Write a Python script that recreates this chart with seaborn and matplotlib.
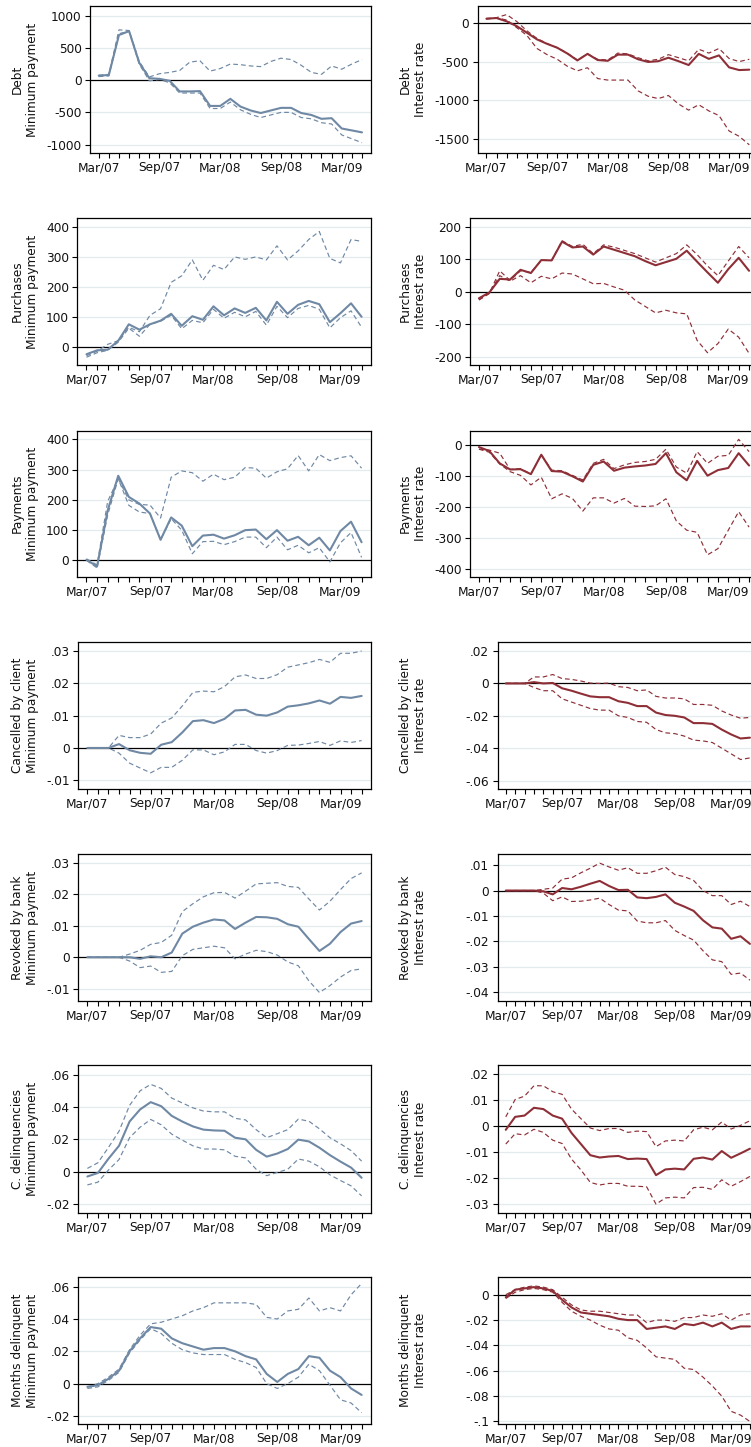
import numpy as np
import pandas as pd
import matplotlib
matplotlib.use("Agg")
import matplotlib.pyplot as plt
import seaborn as sns

# ---- monthly calendar: Mar/07 .. May/09 ----
months = pd.date_range("2007-03-01", "2009-05-01", freq="MS")
month_labels = [d.strftime("%b/%y") for d in months]
tick_months = ["Mar/07", "Sep/07", "Mar/08", "Sep/08", "Mar/09"]

# ---- Debt ----
debt_min = [70, 80, 700, 760, 270, 30, 20, -10, -175, -175, -170, -400, -400, -290,
            -410, -470, -510, -470, -430, -430, -510, -540, -600, -590, -750, -780, -810]
debt_min_hi = [75, 90, 780, 770, 290, 50, 100, 120, 150, 280, 300, 140, 180, 250,
               240, 220, 210, 290, 340, 320, 230, 120, 90, 220, 170, 250, 320]
debt_min_lo = [55, 65, 720, 760, 250, -10, 10, -40, -200, -200, -200, -440, -440, -340,
               -460, -530, -580, -540, -500, -500, -580, -600, -660, -680, -850, -910, -970]
debt_int = [56, 65, 22, -40, -125, -212, -270, -320, -395, -485, -400, -480, -490, -410,
            -410, -470, -505, -495, -450, -495, -545, -400, -465, -420, -575, -610, -605]
debt_int_hi = [50, 70, 110, 20, -100, -200, -265, -320, -390, -480, -400, -470, -480, -390,
               -400, -450, -490, -470, -410, -450, -490, -340, -390, -330, -460, -500, -470]
debt_int_lo = [60, 65, 40, -60, -160, -330, -410, -470, -560, -620, -580, -720, -740, -740,
               -740, -880, -950, -980, -940, -1050, -1130, -1060, -1140, -1200, -1400, -1470, -1580]

# ---- Purchases ----
purch_min = [-25, -12, -10, 20, 75, 57, 75, 87, 110, 70, 102, 90, 135, 105,
             128, 113, 130, 88, 150, 110, 140, 153, 142, 82, 112, 145, 100]
purch_min_hi = [-30, -15, 8, 20, 65, 50, 105, 127, 215, 237, 290, 222, 272, 258,
                300, 292, 300, 290, 337, 290, 320, 358, 385, 295, 280, 358, 352]
purch_min_lo = [-35, -20, -12, 15, 62, 35, 75, 85, 105, 60, 88, 80, 125, 95,
                115, 100, 118, 72, 135, 97, 128, 138, 125, 63, 97, 120, 65]
purch_int = [-20, -2, 40, 38, 68, 58, 98, 97, 155, 137, 140, 115, 140, 130,
             120, 110, 95, 82, 92, 102, 127, 93, 60, 28, 70, 105, 65]
purch_int_hi = [-25, -5, 65, 35, 65, 60, 97, 97, 158, 140, 147, 118, 145, 138,
                128, 118, 105, 92, 105, 118, 145, 115, 80, 50, 95, 140, 105]
purch_int_lo = [-25, -5, 50, 33, 50, 28, 48, 40, 58, 55, 40, 25, 26, 15,
                5, -25, -45, -65, -57, -65, -68, -150, -188, -160, -115, -140, -190]

# ---- Payments ----
pay_min = [2, -20, 165, 280, 210, 188, 155, 68, 142, 115, 47, 82, 85, 72,
           83, 100, 102, 70, 100, 65, 78, 50, 75, 33, 97, 128, 60]
pay_min_hi = [5, -15, 195, 270, 200, 185, 183, 140, 275, 296, 290, 262, 285, 267,
              275, 307, 305, 272, 293, 303, 347, 296, 350, 330, 340, 346, 305]
pay_min_lo = [0, -25, 150, 270, 182, 160, 155, 68, 138, 100, 22, 62, 63, 52,
              62, 77, 77, 42, 77, 35, 50, 25, 42, -5, 58, 92, 10]
pay_int = [-5, -18, -58, -78, -77, -93, -30, -83, -85, -100, -117, -63, -52, -82,
           -72, -68, -65, -60, -25, -87, -113, -50, -98, -80, -73, -25, -65]
pay_int_hi = [-12, -15, -25, -78, -75, -93, -30, -80, -82, -97, -112, -58, -45, -75,
              -63, -55, -52, -45, -12, -70, -90, -20, -58, -35, -32, 20, -20]
pay_int_lo = [-12, -22, -60, -85, -97, -128, -103, -173, -157, -172, -213, -170, -170, -187,
              -172, -197, -198, -196, -173, -245, -275, -282, -355, -335, -275, -215, -265]

# ---- Cancelled by client ----
canc_min = [0, 0, 0, .0012, -.0007, -.0015, -.0018, .001, .0018, .0048, .0083, .0086, .0077, .009,
            .0116, .0118, .0103, .01, .011, .0128, .0132, .0138, .0147, .0137, .0158, .0155, .0161]
canc_min_hi = [0, 0, 0, .0039, .0032, .0032, .0043, .0077, .0093, .013, .0172, .0176, .0174, .019,
               .022, .0226, .0215, .0215, .0227, .025, .0257, .0264, .0274, .0265, .0293, .0293, .030]
canc_min_lo = [0, 0, 0, -.0016, -.0047, -.0062, -.0077, -.006, -.006, -.0038, -.0006, -.0006, -.0021, -.0012,
               .0011, .0011, -.0008, -.0016, -.0008, .0008, .0009, .0014, .002, .0008, .0022, .0017, .0023]
canc_int = [0, 0, 0, .0008, 0, .0003, -.003, -.0045, -.0063, -.008, -.0085, -.0085, -.011, -.012,
            -.014, -.014, -.018, -.0195, -.020, -.021, -.0245, -.0245, -.025, -.0285, -.0315, -.034, -.0335]
canc_int_hi = [0, 0, 0, .004, .004, .0055, .003, .0025, .0015, .0002, 0, .0002, -.002, -.0025,
               -.0045, -.004, -.008, -.009, -.009, -.0095, -.013, -.013, -.0135, -.017, -.0195, -.0215, -.021]
canc_int_lo = [0, 0, 0, -.0025, -.0045, -.0045, -.0095, -.0115, -.0135, -.0155, -.0165, -.0165, -.020, -.021,
               -.0235, -.024, -.0285, -.0305, -.031, -.0325, -.035, -.0355, -.0365, -.040, -.0435, -.047, -.046]

# ---- Revoked by bank ----
revk_min = [0, 0, 0, 0, 0, -.0005, .0003, 0, .0015, .0075, .0097, .011, .012, .0117,
            .009, .011, .0128, .0127, .0122, .0105, .0097, .0058, .002, .0043, .008, .0107, .0115]
revk_min_hi = [0, 0, 0, 0, .001, .0022, .0041, .0047, .007, .0145, .017, .0192, .0205, .0206,
               .0188, .021, .0233, .0235, .0237, .0225, .0222, .0185, .015, .0178, .0215, .025, .0268]
revk_min_lo = [0, 0, 0, 0, -.0012, -.0033, -.0028, -.0048, -.0045, .0005, .0025, .003, .0035, .003,
               -.0005, .001, .0022, .0018, .0007, -.0015, -.0027, -.0075, -.0112, -.009, -.0063, -.0042, -.0037]
revk_int = [0, 0, 0, 0, -.0003, -.0015, .001, .0005, .0015, .0027, .0038, .0018, .0002, .0003,
            -.0027, -.003, -.0025, -.0015, -.0048, -.0063, -.008, -.0117, -.0145, -.015, -.019, -.018, -.021]
revk_int_hi = [0, 0, 0, 0, .0005, .001, .0045, .005, .007, .0088, .0108, .0093, .008, .009,
               .0068, .0068, .0078, .0092, .0063, .0055, .004, 0, -.002, -.002, -.0055, -.0042, -.0063]
revk_int_lo = [0, 0, 0, 0, -.001, -.004, -.0025, -.0043, -.0042, -.0037, -.003, -.0055, -.0077, -.008,
               -.012, -.0127, -.0127, -.0118, -.0157, -.0177, -.0195, -.0237, -.0273, -.028, -.033, -.0325, -.0353]

# ---- Current delinquencies ----
cdel_min = [-.003, -.0008, .008, .016, .031, .0385, .043, .0405, .0345, .031, .028, .026, .0255, .0253,
            .021, .020, .0135, .0093, .0112, .014, .0198, .0187, .0148, .0102, .0062, .0025, -.0038]
cdel_min_hi = [.002, .0055, .015, .025, .041, .050, .054, .0515, .0455, .0425, .0395, .0375, .037, .037,
               .033, .032, .026, .021, .0235, .026, .0325, .0312, .0265, .021, .0172, .013, .0065]
cdel_min_lo = [-.0082, -.0065, .001, .0075, .021, .0275, .0323, .029, .0232, .0195, .016, .014, .014, .0135,
               .0095, .0085, .0015, -.0025, -.0005, .0015, .0078, .0065, .003, -.002, -.0055, -.0088, -.015]
cdel_int = [-.0015, .0035, .004, .007, .0065, .004, .0028, -.0027, -.007, -.0113, -.0122, -.0118, -.0116, -.0128,
            -.0126, -.0128, -.019, -.0168, -.0165, -.0168, -.0127, -.0122, -.013, -.0097, -.0123, -.0106, -.0088]
cdel_int_hi = [.0035, .0102, .0115, .0155, .0155, .0132, .0122, .0065, .0028, -.0008, -.0018, -.001, -.001, -.0025,
               -.002, -.0022, -.008, -.0058, -.0055, -.0058, -.0015, -.0005, -.0015, .0015, -.0012, .0002, .002]
cdel_int_lo = [-.007, -.003, -.0035, -.0013, -.0025, -.0055, -.0068, -.0128, -.017, -.0218, -.0228, -.0222, -.0222, -.0233,
               -.0233, -.0235, -.0302, -.0278, -.0275, -.0278, -.0238, -.0237, -.0245, -.0208, -.0233, -.0215, -.0195]

# ---- Months delinquent ----
mdel_min = [-.002, -.001, .003, .008, .020, .028, .035, .034, .028, .025, .023, .021, .022, .022,
            .020, .017, .015, .006, .001, .006, .009, .017, .016, .008, .004, -.003, -.007]
mdel_min_hi = [-.002, .000, .004, .009, .021, .030, .037, .038, .040, .042, .045, .047, .050, .050,
               .050, .050, .049, .041, .040, .045, .046, .053, .045, .047, .045, .055, .062]
mdel_min_lo = [-.003, -.002, .002, .007, .019, .027, .034, .031, .025, .021, .019, .018, .018, .018,
               .015, .013, .010, .000, -.003, .000, .004, .012, .008, -.001, -.010, -.012, -.018]
mdel_int = [-.002, .004, .005, .006, .005, .003, -.004, -.010, -.014, -.015, -.016, -.017, -.019, -.020,
            -.020, -.027, -.026, -.025, -.027, -.023, -.024, -.022, -.025, -.022, -.027, -.025, -.025]
mdel_int_hi = [.000, .004, .006, .007, .006, .004, -.002, -.008, -.012, -.013, -.013, -.014, -.015, -.016,
               -.016, -.022, -.020, -.020, -.021, -.018, -.018, -.016, -.017, -.015, -.020, -.016, -.015]
mdel_int_lo = [-.003, .002, .004, .005, .004, .002, -.006, -.013, -.017, -.020, -.024, -.027, -.028, -.034,
               -.036, -.042, -.049, -.050, -.051, -.058, -.059, -.065, -.072, -.080, -.092, -.095, -.100]

# ---- panel layout (pixel boxes on a 751 x 1447 canvas) ----
W, H = 751, 1447
row_tops = [6, 218, 430.7, 642.3, 854, 1065.3, 1277]
row_bottoms = [153, 365, 576.7, 789, 1001, 1212.7, 1424]
left_x0 = [90, 77.4, 77.4, 78.3, 78.3, 78.3, 78.3]
left_x1 = 370.7
right_x0 = [477.7, 470, 470, 497.7, 497.7, 497.7, 497.7]
right_x1 = 758

outcomes = ["Debt", "Purchases", "Payments", "Cancelled by client",
            "Revoked by bank", "C. delinquencies", "Months delinquent"]

left_series = [(debt_min, debt_min_hi, debt_min_lo), (purch_min, purch_min_hi, purch_min_lo),
               (pay_min, pay_min_hi, pay_min_lo), (canc_min, canc_min_hi, canc_min_lo),
               (revk_min, revk_min_hi, revk_min_lo), (cdel_min, cdel_min_hi, cdel_min_lo),
               (mdel_min, mdel_min_hi, mdel_min_lo)]
right_series = [(debt_int, debt_int_hi, debt_int_lo), (purch_int, purch_int_hi, purch_int_lo),
                (pay_int, pay_int_hi, pay_int_lo), (canc_int, canc_int_hi, canc_int_lo),
                (revk_int, revk_int_hi, revk_int_lo), (cdel_int, cdel_int_hi, cdel_int_lo),
                (mdel_int, mdel_int_hi, mdel_int_lo)]

left_ylim = [(-1130, 1150), (-61, 430), (-54, 429), (-0.0127, 0.0327),
             (-0.0139, 0.0328), (-0.0254, 0.0658), (-0.025, 0.066)]
left_ticks = [[-1000, -500, 0, 500, 1000], [0, 100, 200, 300, 400], [0, 100, 200, 300, 400],
              [-.01, 0, .01, .02, .03], [-.01, 0, .01, .02, .03],
              [-.02, 0, .02, .04, .06], [-.02, 0, .02, .04, .06]]
right_ylim = [(-1686, 221), (-226, 228), (-426, 48), (-0.0652, 0.0254),
              (-0.0435, 0.0144), (-0.0335, 0.0234), (-0.102, 0.014)]
right_ticks = [[-1500, -1000, -500, 0], [-200, -100, 0, 100, 200], [-400, -300, -200, -100, 0],
               [-.06, -.04, -.02, 0, .02], [-.04, -.03, -.02, -.01, 0, .01],
               [-.03, -.02, -.01, 0, .01, .02], [-.1, -.08, -.06, -.04, -.02, 0]]

BLUE = "#6f88a4"
MAROON = "#8e2f37"

sns.set_style("white")
plt.rcParams["font.family"] = ["DejaVu Sans"]
plt.rcParams["axes.unicode_minus"] = False
FS = 8.7


def stata_num(v):
    """Format a tick value the Stata way: no leading zero, plain hyphen."""
    if abs(v) < 1e-12:
        return "0"
    s = f"{v:g}"
    s = s.replace("0.", ".")
    return s


def draw_panel(ax, series, color, ylim, ticks):
    est, hi, lo = series
    n = len(month_labels)
    df = pd.DataFrame({
        "month": list(range(n)) * 3,
        "value": list(est) + list(hi) + list(lo),
        "band": ["estimate"] * n + ["upper"] * n + ["lower"] * n,
    })
    ax.axhline(0, color="black", lw=0.9, zorder=1.5)
    sns.lineplot(data=df, x="month", y="value", style="band", size="band",
                 dashes={"estimate": "", "upper": (4, 2.6), "lower": (4, 2.6)},
                 sizes={"estimate": 1.5, "upper": 0.85, "lower": 0.85},
                 color=color, legend=False, errorbar=None, ax=ax, zorder=3)
    ax.set_xlim(-0.86, n - 1 + 0.86)
    ax.set_ylim(*ylim)
    ax.set_yticks(ticks)
    ax.set_yticklabels([stata_num(t) for t in ticks], fontsize=FS)
    major = [month_labels.index(m) for m in tick_months]
    ax.set_xticks(major)
    ax.set_xticklabels(tick_months, fontsize=FS)
    ax.set_xticks(range(n), minor=True)
    ax.tick_params(axis="both", which="both", direction="out", length=3.6, width=0.8,
                   color="black", pad=2.5, labelcolor="#111111",
                   bottom=True, left=True, top=False, right=False)
    for t in ticks:
        if abs(t) > 1e-12:
            ax.axhline(t, color="#e3ebef", lw=0.9, zorder=0.5)
    for sp in ax.spines.values():
        sp.set_visible(True)
        sp.set_color("black")
        sp.set_linewidth(0.9)
    ax.set_xlabel("")
    ax.set_ylabel("")


fig = plt.figure(figsize=(W / 100, H / 100), dpi=100)
fig.patch.set_facecolor("white")

for r in range(7):
    top, bot = row_tops[r], row_bottoms[r]
    yc = 1 - (top + bot) / 2 / H
    # left column: minimum payment treatment
    axl = fig.add_axes([left_x0[r] / W, 1 - bot / H, (left_x1 - left_x0[r]) / W, (bot - top) / H])
    draw_panel(axl, left_series[r], BLUE, left_ylim[r], left_ticks[r])
    fig.text(25 / W, yc, f"{outcomes[r]}\nMinimum payment", rotation=90,
             ha="center", va="center", multialignment="center", fontsize=FS, color="#111111")
    # right column: interest rate treatment
    axr = fig.add_axes([right_x0[r] / W, 1 - bot / H, (right_x1 - right_x0[r]) / W, (bot - top) / H])
    draw_panel(axr, right_series[r], MAROON, right_ylim[r], right_ticks[r])
    fig.text(412.5 / W, yc, f"{outcomes[r]}\nInterest rate", rotation=90,
             ha="center", va="center", multialignment="center", fontsize=FS, color="#111111")

fig.savefig("out.png", dpi=100, facecolor="white")
